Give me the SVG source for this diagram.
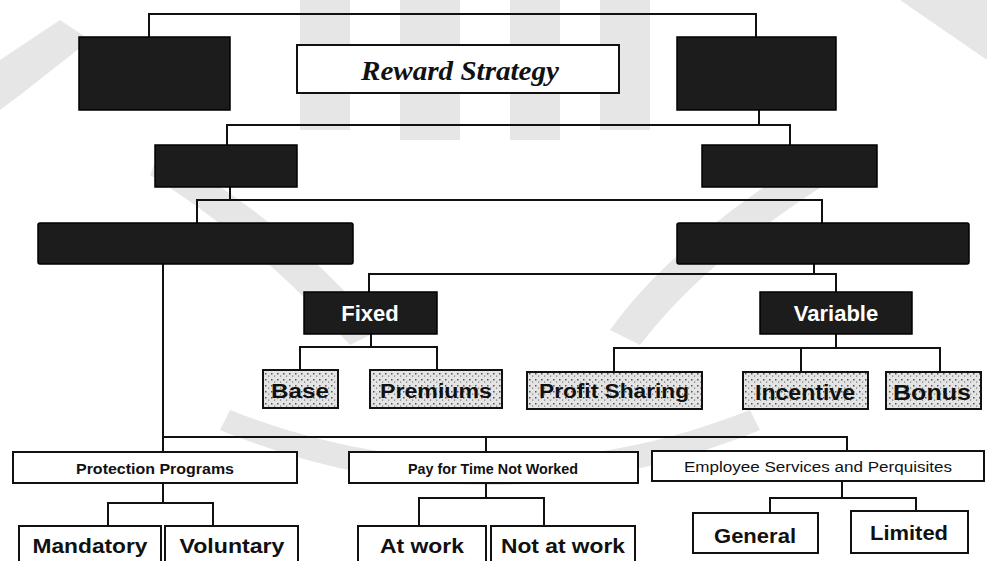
<svg xmlns="http://www.w3.org/2000/svg" width="987" height="561" viewBox="0 0 987 561">
<defs>
<pattern id="speck" width="6" height="6" patternUnits="userSpaceOnUse">
<rect width="6" height="6" fill="#e4e4e4"/>
<rect x="1" y="1" width="1.5" height="1.5" fill="#555"/>
<rect x="4" y="3.5" width="1.2" height="1.2" fill="#777"/>
</pattern>
<style>
.dark{fill:#1c1c1c;stroke:#000;stroke-width:1.5}
.wbox{fill:#fff;stroke:#111;stroke-width:2}
.pbox{fill:url(#speck);stroke:#111;stroke-width:2}
.ln{fill:none;stroke:#111;stroke-width:2}
.wm{fill:#e6e6e6}
.t1{font-family:"Liberation Sans",Arial,sans-serif;font-weight:bold;fill:#111;text-anchor:middle}
.t2{font-family:"Liberation Sans",Arial,sans-serif;fill:#111;text-anchor:middle}
.tw{font-family:"Liberation Sans",Arial,sans-serif;font-weight:bold;fill:#fff;text-anchor:middle}
</style>
</defs>
<rect width="987" height="561" fill="#fff"/>
<g id="watermark">
<path class="wm" d="M0,60 L60,20 L90,40 L20,95 L0,110 Z"/>
<path class="wm" d="M300,0 L350,0 L350,130 L300,130 Z"/>
<path class="wm" d="M400,0 L460,0 L460,140 L400,140 Z"/>
<path class="wm" d="M510,0 L560,0 L560,140 L510,140 Z"/>
<path class="wm" d="M600,0 L650,0 L650,130 L600,130 Z"/>
<path class="wm" d="M160,150 C250,200 320,260 380,330 L350,345 C290,280 230,225 150,175 Z"/>
<path class="wm" d="M820,150 C740,200 660,260 610,330 L640,345 C690,280 760,225 840,175 Z"/>
<path class="wm" d="M230,410 C330,450 420,460 490,460 C560,460 650,450 750,410 L760,430 C650,475 560,485 490,485 C420,485 330,475 220,430 Z"/>
<path class="wm" d="M900,0 L987,0 L987,60 Z"/>
</g>
<g id="connectors">
<path class="ln" d="M149,37 V14 H756 V37"/>
<path class="ln" d="M759,110 V125 H227 V145"/>
<path class="ln" d="M759,125 H790 V145"/>
<path class="ln" d="M230,187 V200 H197 V223"/>
<path class="ln" d="M230,200 H822 V223"/>
<path class="ln" d="M814,264 V274 H369 V292"/>
<path class="ln" d="M814,274 H836 V292"/>
<path class="ln" d="M371,334 V347 H300 V370"/>
<path class="ln" d="M371,347 H437 V370"/>
<path class="ln" d="M836,334 V348 H614 V372"/>
<path class="ln" d="M801,348 V372"/>
<path class="ln" d="M836,348 H940 V372"/>
<path class="ln" d="M163,264 V452"/>
<path class="ln" d="M163,437 H847 V452"/>
<path class="ln" d="M486,437 V452"/>
<path class="ln" d="M163,483 V503 H108 V526"/>
<path class="ln" d="M163,503 H213 V526"/>
<path class="ln" d="M486,483 V498 H419 V526"/>
<path class="ln" d="M486,498 H544 V526"/>
<path class="ln" d="M842,481 V498 H770 V513"/>
<path class="ln" d="M842,498 H916 V511"/>
</g>
<g id="n-left-top"><rect class="dark" x="79" y="37" width="151" height="73"/></g>
<g id="n-reward"><rect class="wbox" x="297" y="45" width="322" height="48"/>
<text x="460" y="80" font-family="'Liberation Serif','Times New Roman',serif" font-style="italic" font-weight="bold" font-size="27" fill="#111" text-anchor="middle" textLength="198" lengthAdjust="spacingAndGlyphs">Reward Strategy</text></g>
<g id="n-right-top"><rect class="dark" x="677" y="37" width="159" height="73"/></g>
<g id="n-left-mid"><rect class="dark" x="155" y="145" width="142" height="42"/></g>
<g id="n-right-mid"><rect class="dark" x="702" y="145" width="175" height="42"/></g>
<g id="n-indirect"><rect class="dark" x="38" y="223" width="315" height="41" rx="2"/></g>
<g id="n-direct"><rect class="dark" x="677" y="223" width="292" height="41" rx="2"/></g>
<g id="n-fixed"><rect class="dark" x="304" y="292" width="133" height="42"/>
<text class="tw" x="370" y="321" font-size="22">Fixed</text></g>
<g id="n-variable"><rect class="dark" x="760" y="292" width="152" height="42"/>
<text class="tw" x="836" y="321" font-size="22">Variable</text></g>
<g id="n-base"><rect class="pbox" x="263" y="370" width="75" height="38"/>
<text class="t1" x="300" y="398" font-size="20" textLength="58" lengthAdjust="spacingAndGlyphs">Base</text></g>
<g id="n-premiums"><rect class="pbox" x="370" y="370" width="132" height="38"/>
<text class="t1" x="436" y="398" font-size="20" textLength="112" lengthAdjust="spacingAndGlyphs">Premiums</text></g>
<g id="n-profit"><rect class="pbox" x="527" y="372" width="175" height="37"/>
<text class="t1" x="614" y="398" font-size="20" textLength="150" lengthAdjust="spacingAndGlyphs">Profit Sharing</text></g>
<g id="n-incentive"><rect class="pbox" x="743" y="372" width="125" height="37"/>
<text class="t1" x="805" y="400" font-size="22" textLength="100" lengthAdjust="spacingAndGlyphs">Incentive</text></g>
<g id="n-bonus"><rect class="pbox" x="886" y="372" width="95" height="37"/>
<text class="t1" x="932" y="400" font-size="22" textLength="78" lengthAdjust="spacingAndGlyphs">Bonus</text></g>
<g id="n-protection"><rect class="wbox" x="13" y="452" width="284" height="31"/>
<text class="t1" x="155" y="474" font-size="14" textLength="158" lengthAdjust="spacingAndGlyphs">Protection Programs</text></g>
<g id="n-payfor"><rect class="wbox" x="349" y="452" width="289" height="31"/>
<text class="t1" x="493" y="474" font-size="14" textLength="170" lengthAdjust="spacingAndGlyphs">Pay for Time Not Worked</text></g>
<g id="n-employee"><rect class="wbox" x="652" y="451" width="332" height="30"/>
<text class="t2" x="818" y="472" font-size="14" textLength="268" lengthAdjust="spacingAndGlyphs">Employee Services and Perquisites</text></g>
<g id="n-mandatory"><rect class="wbox" x="19" y="526" width="142" height="40"/>
<text class="t1" x="90" y="553" font-size="20" textLength="115" lengthAdjust="spacingAndGlyphs">Mandatory</text></g>
<g id="n-voluntary"><rect class="wbox" x="165" y="526" width="133" height="40"/>
<text class="t1" x="232" y="553" font-size="20" textLength="105" lengthAdjust="spacingAndGlyphs">Voluntary</text></g>
<g id="n-atwork"><rect class="wbox" x="358" y="526" width="128" height="40"/>
<text class="t1" x="422" y="553" font-size="20" textLength="84" lengthAdjust="spacingAndGlyphs">At work</text></g>
<g id="n-notatwork"><rect class="wbox" x="491" y="526" width="144" height="40"/>
<text class="t1" x="563" y="553" font-size="20" textLength="124" lengthAdjust="spacingAndGlyphs">Not at work</text></g>
<g id="n-general"><rect class="wbox" x="693" y="513" width="125" height="40"/>
<text class="t2" x="755" y="543" font-size="20" font-weight="600" textLength="82" lengthAdjust="spacingAndGlyphs">General</text></g>
<g id="n-limited"><rect class="wbox" x="851" y="511" width="117" height="42"/>
<text class="t2" x="909" y="540" font-size="20" font-weight="600" textLength="78" lengthAdjust="spacingAndGlyphs">Limited</text></g>
</svg>
